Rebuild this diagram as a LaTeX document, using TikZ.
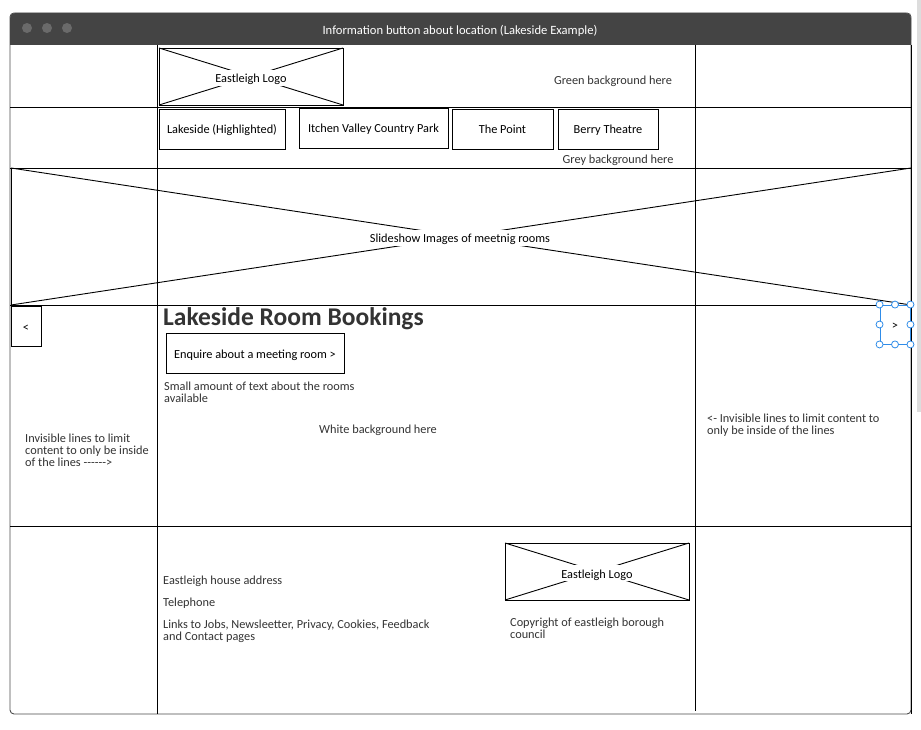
\documentclass[tikz,border=0pt]{standalone}
\usepackage{fontspec}
\setmainfont{Carlito}
\usetikzlibrary{positioning}

\definecolor{barGrey}{HTML}{444444}
\definecolor{dotGrey}{HTML}{6A6A6A}
\definecolor{textGrey}{HTML}{333333}
\definecolor{handleBlue}{HTML}{2F8CE8}
\definecolor{scrollGrey}{HTML}{DDDDDD}

\tikzset{
	wire/.style={line width=0.9pt, color=black},
	box/.style={draw, line width=0.9pt, rectangle, inner sep=0pt, text height=12pt, text depth=2pt, font=\fontsize{12.3}{12}\selectfont},
	txt/.style={text=textGrey, inner sep=0pt, text height=12pt, text depth=2pt, font=\fontsize{12.3}{12}\selectfont},
	lefttxt/.style={text=textGrey, inner sep=0pt, anchor=north west, align=left, font=\fontsize{12.3}{12}\selectfont},
	imglabel/.style={fill=white, inner sep=1pt, text height=12pt, text depth=2pt, font=\fontsize{12.3}{12}\selectfont},
	handle/.style={draw=handleBlue, fill=white, line width=0.8pt, circle, inner sep=0pt, minimum size=7pt}
}

\begin{document}
\begin{tikzpicture}[x=1pt, y=-1pt]
			%%%%% START %%%%%
			\useasboundingbox (0,0) rectangle (921,730);
			\fill[scrollGrey] (917,0) rectangle (921,412);
			
			% window
			\draw[fill=white, draw=black!70, line width=0.9pt, rounded corners=4pt] (10,13) rectangle (911,714);
			\fill[barGrey, rounded corners=5pt] (10,13) rectangle (911,45);
			\fill[barGrey] (10,35) rectangle (911,45);
			\foreach \dx in {27,47,67}
				\fill[dotGrey] (\dx,28) circle (5);
			\node[text=white, inner sep=0pt, text height=12pt, text depth=2pt, font=\fontsize{12.6}{13}\selectfont] (title) at (460,30) {Information button about location (Lakeside Example)};
			
			% grid
			\draw[wire] (157,45) -- (157,714);
			\draw[wire] (695,45) -- (695,711);
			\draw[wire] (911,45) -- (911,714);
			\draw[wire] (10,107) -- (911,107);
			\draw[wire] (10,526) -- (911,526);
			
			% header
			\draw[wire] (159,48) rectangle (343,105);
			\draw[wire] (159,48) -- (343,105);
			\draw[wire] (159,105) -- (343,48);
			\node[imglabel] (logoTop) at (251,78) {Eastleigh Logo};
			\node[txt] (green) at (613,80) {Green background here};
			
			% navigation
			\node[box, minimum width=126pt, minimum height=40pt] (navLakeside) at (222,129) {Lakeside (Highlighted)};
			\node[box, minimum width=149pt, minimum height=40pt] (navItchen) at (373.5,128) {Itchen Valley Country Park};
			\node[box, minimum width=101pt, minimum height=40pt] (navPoint) at (502.5,129) {The Point};
			\node[box, minimum width=100pt, minimum height=40pt] (navBerry) at (608,129) {Berry Theatre};
			\node[txt] (grey) at (618,159) {Grey background here};
			
			% slideshow
			\draw[wire] (11,168) rectangle (911,305);
			\draw[wire] (10,168) -- (911,168);
			\draw[wire] (10,305) -- (911,305);
			\draw[wire] (11,168) -- (911,305);
			\draw[wire] (11,305) -- (911,168);
			\node[imglabel] (slides) at (460,238) {Slideshow Images of meetnig rooms};
			
			% arrows of the slideshow
			\node[box, minimum width=30pt, minimum height=40pt] (prev) at (26,326) {<};
			\node[box, draw=handleBlue, minimum width=30pt, minimum height=39pt] (next) at (895,324.5) {>};
			\foreach \a in {north west,north,north east,east,south east,south,south west,west}
				\node[handle] at (next.\a) {};
			
			% content
			\node[anchor=base west, inner sep=0pt, text=textGrey, font=\fontsize{25.5}{27}\selectfont\bfseries] (heading) at (163,325) {Lakeside Room Bookings};
			\node[box, minimum width=178pt, minimum height=40pt] (enquire) at (255,353) {Enquire about a meeting room >};
			\node[lefttxt] (about) at (164,382) {Small amount of text about the rooms\\available};
			\node[txt] (white) at (378,428) {White background here};
			\node[lefttxt] (limitLeft) at (25,434) {Invisible lines to limit\\content to only be inside\\of the lines {-}{-}{-}{-}{-}{-}>};
			\node[lefttxt] (limitRight) at (707,414) {<- Invisible lines to limit content to\\only be inside of the lines};
			
			% footer
			\node[lefttxt] (address) at (163,576) {Eastleigh house address};
			\node[lefttxt] (phone) at (163,598) {Telephone};
			\node[lefttxt] (links) at (163,620) {Links to Jobs, Newsleetter, Privacy, Cookies, Feedback\\and Contact pages};
			\draw[wire] (505,543) rectangle (689,600);
			\draw[wire] (505,543) -- (689,600);
			\draw[wire] (505,600) -- (689,543);
			\node[imglabel] (logoFoot) at (597,573) {Eastleigh Logo};
			\node[lefttxt] (copyright) at (510,618) {Copyright of eastleigh borough\\council};
			%%%%% END %%%%%
\end{tikzpicture}
\end{document}
